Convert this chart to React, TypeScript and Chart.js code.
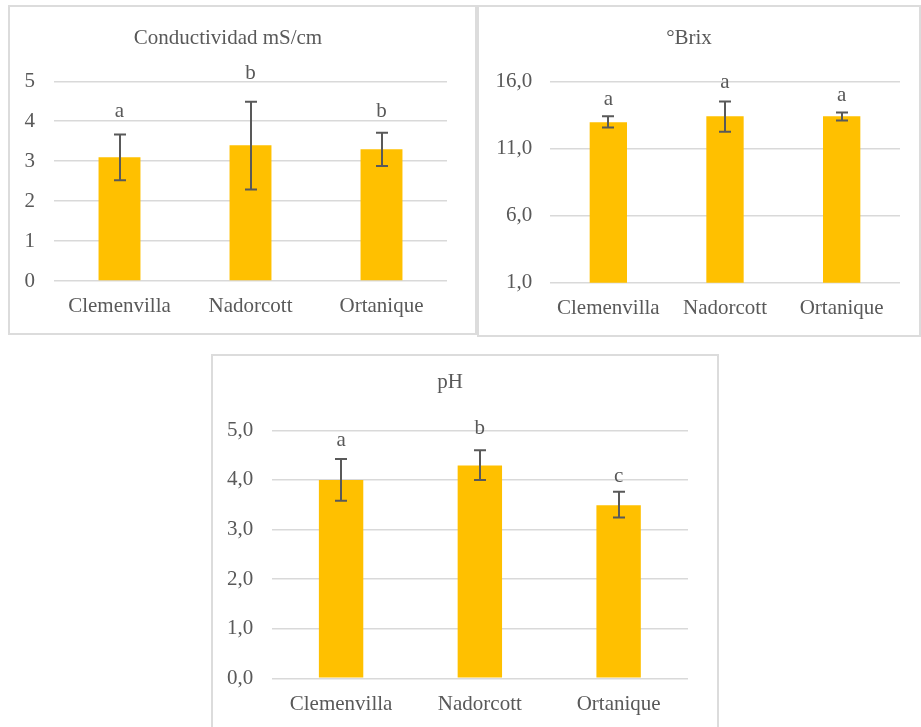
import React, { useEffect, useRef } from 'react';
import { Chart, registerables } from 'chart.js';

Chart.register(...registerables);

// ---------- data ----------
const categories = ['Clemenvilla', 'Nadorcott', 'Ortanique'];

const condValues = [3.1, 3.4, 3.3];
const condErrUp = [0.57, 1.09, 0.41];
const condErrDown = [0.58, 1.11, 0.42];
const condLetters = ['a', 'b', 'b'];
const condLetterLevels = [4.25, 5.2, 4.25];
const condTickValues = [0, 1, 2, 3, 4, 5];
const condTickLabels = ['0', '1', '2', '3', '4', '5'];

const brixValues = [12.95, 13.4, 13.4];
const brixErrUp = [0.45, 1.1, 0.28];
const brixErrDown = [0.4, 1.15, 0.32];
const brixLetters = ['a', 'a', 'a'];
const brixLetterLevels = [14.61, 15.93, 14.93];
const brixTickValues = [1, 6, 11, 16];
const brixTickLabels = ['1,0', '6,0', '11,0', '16,0'];

const phValues = [4.0, 4.29, 3.49];
const phErrUp = [0.42, 0.31, 0.27];
const phErrDown = [0.42, 0.29, 0.25];
const phLetters = ['a', 'b', 'c'];
const phLetterLevels = [4.79, 5.04, 4.06];
const phTickValues = [0, 1, 2, 3, 4, 5];
const phTickLabels = ['0,0', '1,0', '2,0', '3,0', '4,0', '5,0'];

// ---------- styling ----------
const FONT = '"Liberation Serif", "Times New Roman", serif';
const FSIZE = 21;
const TEXT = '#595959';
const GRID = '#d9d9d9';
const BAR = '#FFC000';

const errorBarPlugin = {
  id: 'errorBars',
  afterDatasetsDraw(chart: any, _args: any, opts: any) {
    const { ctx } = chart;
    const meta = chart.getDatasetMeta(0);
    const y = chart.scales.y;
    ctx.save();
    ctx.strokeStyle = TEXT;
    ctx.lineWidth = 2;
    const cap = 6;
    meta.data.forEach((bar: any, i: number) => {
      const x = Math.round(bar.x);
      const top = y.getPixelForValue(opts.values[i] + opts.up[i]);
      const bot = y.getPixelForValue(opts.values[i] - opts.down[i]);
      ctx.beginPath();
      ctx.moveTo(x, top);
      ctx.lineTo(x, bot);
      ctx.moveTo(x - cap, top);
      ctx.lineTo(x + cap, top);
      ctx.moveTo(x - cap, bot);
      ctx.lineTo(x + cap, bot);
      ctx.stroke();
    });
    ctx.fillStyle = TEXT;
    ctx.font = `${FSIZE}px ${FONT}`;
    ctx.textAlign = 'center';
    ctx.textBaseline = 'middle';
    meta.data.forEach((bar: any, i: number) => {
      ctx.fillText(opts.letters[i], bar.x, y.getPixelForValue(opts.letterLevels[i]));
    });
    ctx.restore();
  },
};

type Spec = {
  title: string;
  values: number[];
  up: number[];
  down: number[];
  letters: string[];
  letterLevels: number[];
  tickValues: number[];
  tickLabels: string[];
};

type Layout = {
  left: number;
  top: number;
  width: number;
  height: number;
  yWidth: number;
  yPad: number;
  xHeight: number;
  xPad: number;
  titleTop: number;
  titleBottom: number;
  padRight: number;
};

function BarPanel({ spec, lay }: { spec: Spec; lay: Layout }) {
  const ref = useRef<HTMLCanvasElement>(null);
  const cw = lay.width - 2;
  const ch = lay.height - 2;

  useEffect(() => {
    if (!ref.current) return;
    const tv = spec.tickValues;
    const chart = new Chart(ref.current, {
      type: 'bar',
      data: {
        labels: categories,
        datasets: [
          {
            data: spec.values,
            backgroundColor: BAR,
            borderWidth: 0,
            barPercentage: 0.32,
            categoryPercentage: 1,
          },
        ],
      },
      options: {
        responsive: false,
        animation: false,
        events: [],
        devicePixelRatio: 1,
        layout: { padding: { top: 0, left: 0, right: lay.padRight, bottom: 0 } },
        plugins: {
          legend: { display: false },
          tooltip: { enabled: false },
          title: {
            display: true,
            text: spec.title,
            color: TEXT,
            font: { family: FONT, size: FSIZE, weight: 'normal', lineHeight: 1.2 },
            padding: { top: lay.titleTop, bottom: lay.titleBottom },
          },
          errorBars: {
            values: spec.values,
            up: spec.up,
            down: spec.down,
            letters: spec.letters,
            letterLevels: spec.letterLevels,
          },
        } as any,
        scales: {
          x: {
            grid: { display: false, drawTicks: false },
            border: { display: false },
            ticks: {
              color: TEXT,
              font: { family: FONT, size: FSIZE, lineHeight: 1.2 },
              padding: lay.xPad,
              maxRotation: 0,
              autoSkip: false,
            },
            afterFit: (s: any) => {
              s.height = lay.xHeight;
            },
          },
          y: {
            min: tv[0],
            max: tv[tv.length - 1],
            grid: { color: GRID, lineWidth: 1.5, drawTicks: false },
            border: { display: false },
            ticks: {
              color: TEXT,
              font: { family: FONT, size: FSIZE, lineHeight: 1.2 },
              padding: lay.yPad,
              callback: (_v: any, i: number) => spec.tickLabels[i],
            },
            afterBuildTicks: (s: any) => {
              s.ticks = tv.map((v) => ({ value: v }));
            },
            afterFit: (s: any) => {
              s.width = lay.yWidth;
            },
          },
        },
      } as any,
      plugins: [errorBarPlugin as any],
    });
    return () => chart.destroy();
  }, []);

  return (
    <div
      style={{
        position: 'absolute',
        left: lay.left,
        top: lay.top,
        width: lay.width,
        height: lay.height,
        background: '#fff',
      }}
    >
      <canvas
        ref={ref}
        width={cw}
        height={ch}
        style={{ position: 'absolute', left: 1, top: 1, display: 'block', width: cw, height: ch }}
      />
      <div
        style={{
          position: 'absolute',
          left: 0,
          top: 0,
          width: lay.width,
          height: lay.height,
          border: '2px solid #dcdcdc',
          boxSizing: 'border-box',
          pointerEvents: 'none',
        }}
      />
    </div>
  );
}

const condSpec: Spec = {
  title: 'Conductividad mS/cm',
  values: condValues,
  up: condErrUp,
  down: condErrDown,
  letters: condLetters,
  letterLevels: condLetterLevels,
  tickValues: condTickValues,
  tickLabels: condTickLabels,
};
const brixSpec: Spec = {
  title: '°Brix',
  values: brixValues,
  up: brixErrUp,
  down: brixErrDown,
  letters: brixLetters,
  letterLevels: brixLetterLevels,
  tickValues: brixTickValues,
  tickLabels: brixTickLabels,
};
const phSpec: Spec = {
  title: 'pH',
  values: phValues,
  up: phErrUp,
  down: phErrDown,
  letters: phLetters,
  letterLevels: phLetterLevels,
  tickValues: phTickValues,
  tickLabels: phTickLabels,
};

export default function App() {
  return (
    <div
      style={{
        position: 'fixed',
        left: 0,
        top: 0,
        width: 921,
        height: 727,
        overflow: 'hidden',
        background: '#fff',
      }}
    >
      <BarPanel
        spec={condSpec}
        lay={{
          left: 8, top: 5, width: 469, height: 330,
          yWidth: 45, yPad: 19, xHeight: 53, xPad: 12.6,
          titleTop: 19.4, titleBottom: 30.7, padRight: 29,
        }}
      />
      <BarPanel
        spec={brixSpec}
        lay={{
          left: 477, top: 5, width: 444, height: 332,
          yWidth: 72, yPad: 17.7, xHeight: 53.3, xPad: 12.9,
          titleTop: 19.4, titleBottom: 30.7, padRight: 20,
        }}
      />
      <BarPanel
        spec={phSpec}
        lay={{
          left: 211, top: 354, width: 508, height: 380,
          yWidth: 59.7, yPad: 18.4, xHeight: 54.7, xPad: 13.3,
          titleTop: 14.4, titleBottom: 35.7, padRight: 30,
        }}
      />
    </div>
  );
}
